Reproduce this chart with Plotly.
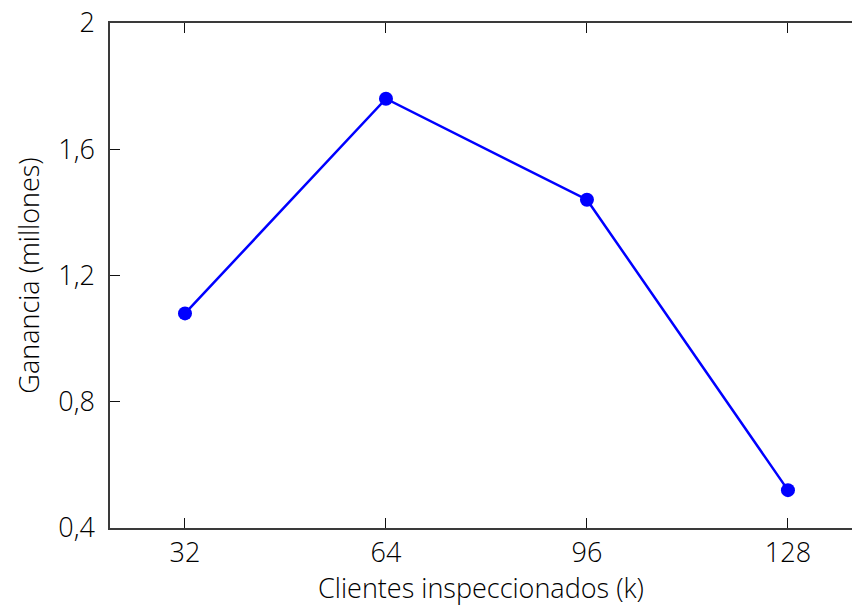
import plotly.graph_objects as go

# Profit (in millions) by number of inspected clients
clientes = [32, 64, 96, 128]
ganancia = [1.08, 1.76, 1.44, 0.52]

y_ticks = [0.4, 0.8, 1.2, 1.6, 2.0]
y_tick_labels = ["0,4", "0,8", "1,2", "1,6", "2"]
x_ticks = [32, 64, 96, 128]

FONT = "Open Sans"
FONT_SIZE = 27
TEXT_COLOR = "#000000"
AXIS_COLOR = "#3a3a3a"

fig = go.Figure()
fig.add_trace(go.Scatter(
    x=clientes, y=ganancia,
    mode="lines+markers",
    line=dict(color="#0000ff", width=2.5),
    marker=dict(color="#0000ff", size=14),
    showlegend=False,
))

label_font = dict(family=FONT, size=FONT_SIZE, weight=300, color=TEXT_COLOR)

fig.update_layout(
    width=852, height=606,
    margin=dict(l=110, r=0, t=23, b=78),
    paper_bgcolor="white", plot_bgcolor="white",
    font=label_font,
    xaxis=dict(
        range=[20.06, 138.2],
        tickvals=x_ticks,
        ticks="inside", ticklen=10, tickcolor="#111", tickwidth=1.2,
        showline=True, linecolor=AXIS_COLOR, linewidth=1.5, mirror="ticks",
        showgrid=False, zeroline=False,
        ticklabelstandoff=0,
        tickfont=label_font,
        title=dict(text="Clientes inspeccionados (k)", standoff=14,
                   font=label_font),
    ),
    yaxis=dict(
        range=[0.4, 2.0],
        tickvals=y_ticks, ticktext=y_tick_labels,
        ticks="inside", ticklen=10, tickcolor="#111", tickwidth=1.2,
        showline=True, linecolor=AXIS_COLOR, linewidth=1.5, mirror=False,
        showgrid=False, zeroline=False,
        ticklabelstandoff=8,
        tickfont=label_font,
        title=dict(text="Ganancia (millones)", standoff=11,
                   font=label_font),
    ),
)

fig.write_html("out.html")
